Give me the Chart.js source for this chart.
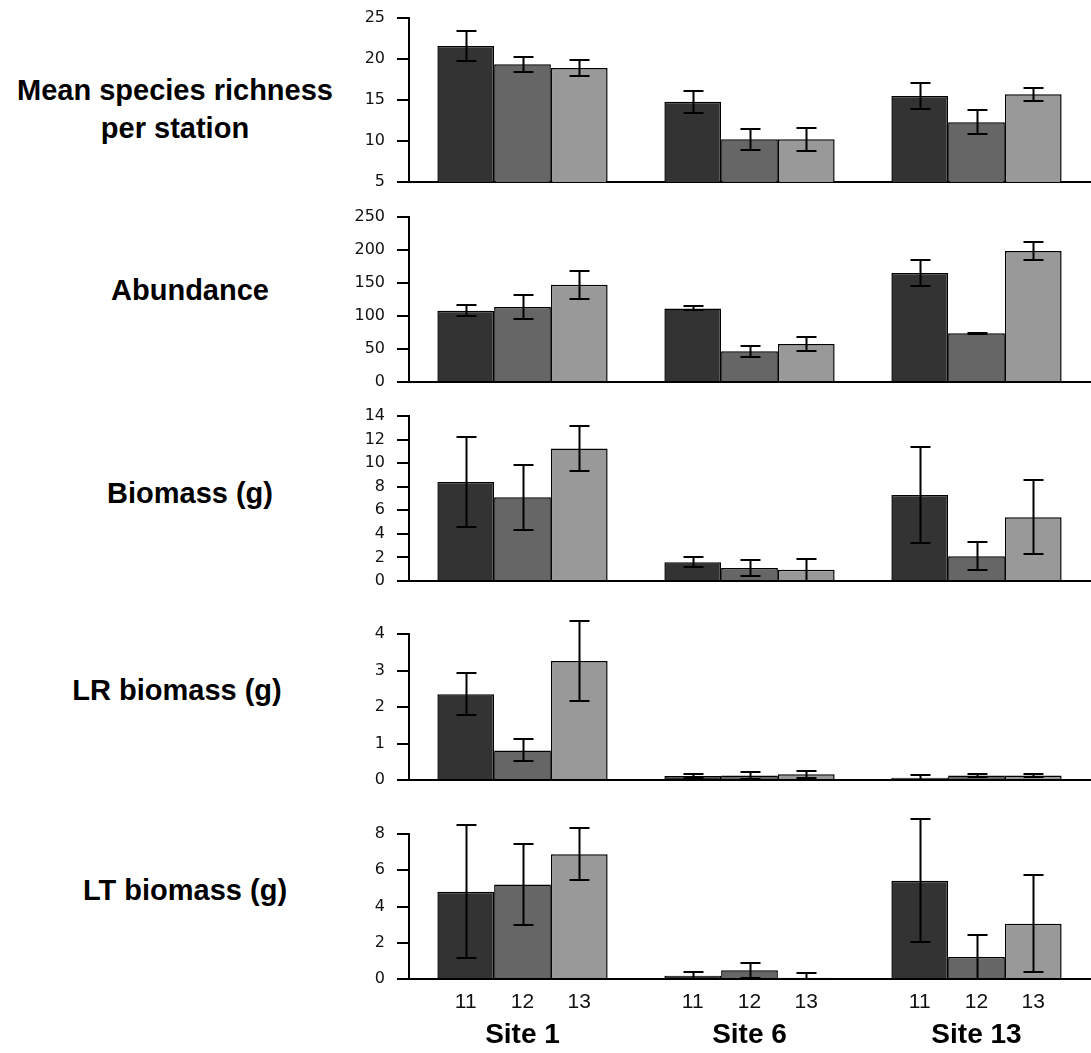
<!DOCTYPE html>
<html><head><meta charset="utf-8">
<script src="https://cdn.jsdelivr.net/npm/chart.js@4/dist/chart.umd.min.js"></script>
<style>
body{margin:0;background:#fff;width:1091px;height:1053px;position:relative;overflow:hidden}
canvas{position:absolute;left:0}
.lab{position:absolute;font-family:"Liberation Sans",Arial,sans-serif;font-weight:bold;font-size:29px;color:#000;transform:translate(-50%,-50%);white-space:nowrap;text-align:center;line-height:38px}
</style></head><body>
<div class="lab" style="left:175px;top:109px">Mean species richness<br>per station</div>
<div class="lab" style="left:190px;top:290px">Abundance</div>
<div class="lab" style="left:190px;top:493px">Biomass (g)</div>
<div class="lab" style="left:177px;top:690px">LR biomass (g)</div>
<div class="lab" style="left:185px;top:890px">LT biomass (g)</div>
<canvas id="c1" width="1091" height="200" style="top:0px"></canvas>
<canvas id="c2" width="1091" height="200" style="top:200px"></canvas>
<canvas id="c3" width="1091" height="200" style="top:400px"></canvas>
<canvas id="c4" width="1091" height="200" style="top:600px"></canvas>
<canvas id="c5" width="1091" height="253" style="top:800px"></canvas>
<script>
// Categories and series
const sites = ['Site 1', 'Site 6', 'Site 13'];
const years = ['11', '12', '13'];
// Each array: rows = years 11,12,13 ; columns = Site 1, Site 6, Site 13
const richnessMean = [[21.6, 14.8, 15.5], [19.35, 10.2, 12.3], [18.9, 10.2, 15.7]];
const richnessErr  = [[1.85, 1.35, 1.55], [0.9, 1.27, 1.5], [1.0, 1.4, 0.8]];
const abundanceMean = [[108, 111.5, 165], [113.5, 46.5, 74], [147.5, 57.5, 198.5]];
const abundanceErr  = [[8.5, 3, 19.5], [18, 8.5, 1], [21, 11, 14]];
const biomassMean = [[8.4, 1.6, 7.3], [7.1, 1.1, 2.1], [11.25, 0.95, 5.4]];
const biomassErr  = [[3.8, 0.4, 4.1], [2.75, 0.7, 1.2], [1.9, 0.95, 3.15]];
const lrMean = [[2.35, 0.11, 0.06], [0.81, 0.12, 0.12], [3.26, 0.16, 0.12]];
const lrErr  = [[0.57, 0.05, 0.09], [0.3, 0.09, 0.04], [1.1, 0.1, 0.04]];
const ltMean = [[4.82, 0.18, 5.42], [5.22, 0.48, 1.21], [6.88, 0.07, 3.05]];
const ltErr  = [[3.65, 0.19, 3.4], [2.22, 0.4, 1.22], [1.43, 0.27, 2.68]];
// Y tick settings per panel: [min, max, step]
const richnessTicks = [5, 25, 5];
const abundanceTicks = [0, 250, 50];
const biomassTicks = [0, 14, 2];
const lrTicks = [0, 4, 1];
const ltTicks = [0, 8, 2];

const colors = ['#333333', '#666666', '#999999'];

const errorBars = {
  id: 'errorBars',
  afterDatasetsDraw(chart) {
    const ctx = chart.ctx, y = chart.scales.y;
    ctx.save();
    ctx.strokeStyle = '#000';
    ctx.lineWidth = 2;
    chart.data.datasets.forEach((ds, i) => {
      const meta = chart.getDatasetMeta(i);
      meta.data.forEach((el, j) => {
        const v = ds.data[j], e = ds.errors[j];
        const yt = Math.round(y.getPixelForValue(v + e));
        const yb = Math.round(y.getPixelForValue(Math.max(v - e, y.min)));
        const x = Math.round(el.x) + 0.5;
        ctx.beginPath();
        ctx.moveTo(x, yt); ctx.lineTo(x, yb);
        ctx.moveTo(x - 10, yt); ctx.lineTo(x + 10, yt);
        ctx.moveTo(x - 10, yb); ctx.lineTo(x + 10, yb);
        ctx.stroke();
      });
    });
    ctx.restore();
  }
};

const yearLabels = {
  id: 'yearLabels',
  afterDraw(chart) {
    if (!chart.options.plugins.yearLabels.show) return;
    const ctx = chart.ctx, xs = chart.scales.x;
    ctx.save();
    ctx.fillStyle = '#111';
    ctx.font = '21px "Liberation Sans", Arial, sans-serif';
    ctx.textAlign = 'center';
    ctx.textBaseline = 'middle';
    chart.data.datasets.forEach((ds, i) => {
      chart.getDatasetMeta(i).data.forEach(el => {
        ctx.fillText(ds.label, el.x, xs.top + 23);
      });
    });
    ctx.restore();
  }
};

function make(id, means, errs, ticks, padTop, padBottom, showX) {
  const datasets = years.map((yr, k) => ({
    label: yr,
    data: means[k],
    errors: errs[k],
    backgroundColor: colors[k],
    borderColor: '#000',
    borderWidth: 1.5,
    borderSkipped: 'bottom',
    barPercentage: 1.0,
    categoryPercentage: 0.75
  }));
  return new Chart(document.getElementById(id), {
    type: 'bar',
    data: { labels: sites, datasets },
    options: {
      responsive: false,
      devicePixelRatio: 1,
      animation: false,
      layout: { padding: { top: padTop, bottom: padBottom, left: 0, right: 1 } },
      plugins: { legend: { display: false }, tooltip: { enabled: false }, yearLabels: { show: showX } },
      scales: {
        x: {
          grid: { display: false, drawTicks: false },
          border: { display: true, color: '#000', width: 2 },
          ticks: {
            display: showX,
            color: '#000',
            padding: 39,
            font: { family: '"Liberation Sans", Arial, sans-serif', size: 28, weight: 'bold' }
          },
          afterFit(s) { s.height = showX ? 74 : 0; s.paddingLeft = 0; s.paddingRight = 0; }
        },
        y: {
          min: ticks[0], max: ticks[1],
          ticks: {
            stepSize: ticks[2],
            color: '#111',
            padding: 12,
            font: { family: '"DejaVu Sans", Verdana, sans-serif', size: 16 }
          },
          grid: { display: true, drawOnChartArea: false, drawTicks: true, tickLength: 12, color: '#000', lineWidth: 2 },
          border: { display: true, color: '#000', width: 2 },
          afterFit(s) { s.width = 409; s.paddingTop = 0; s.paddingBottom = 0; }
        }
      }
    },
    plugins: [errorBars, yearLabels]
  });
}

make('c1', richnessMean, richnessErr, richnessTicks, 18, 18, false);
make('c2', abundanceMean, abundanceErr, abundanceTicks, 17, 18, false);
make('c3', biomassMean, biomassErr, biomassTicks, 16, 19, false);
make('c4', lrMean, lrErr, lrTicks, 34, 20, false);
make('c5', ltMean, ltErr, ltTicks, 34, 0, true);
</script>
</body></html>
